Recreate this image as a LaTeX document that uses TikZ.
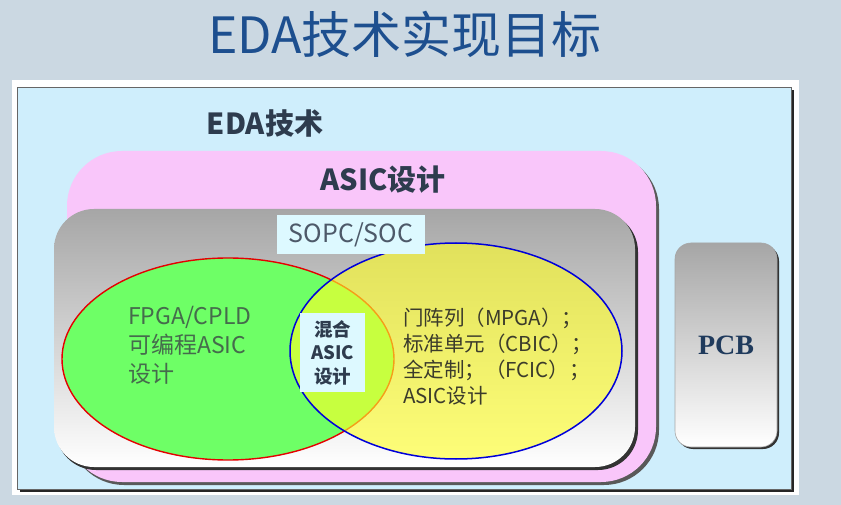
\documentclass[tikz,border=0pt]{standalone}
\usepackage{fontspec}
\setmainfont{Noto Sans CJK SC}
\newfontfamily\pcbfont{Liberation Serif}
\usetikzlibrary{shapes.geometric}
\definecolor{bgc}{HTML}{CBD8E2}
\definecolor{titlec}{HTML}{1D4F8F}
\definecolor{skyc}{HTML}{CFEEFC}
\definecolor{pinkc}{HTML}{F9C6FA}
\definecolor{gtop}{HTML}{A6A6A6}
\definecolor{greenc}{HTML}{6EFF66}
\definecolor{yelc}{HTML}{FFFF28}
\definecolor{labc}{HTML}{2E3C4E}
\definecolor{cyanc}{HTML}{DDF9FF}
\definecolor{greentext}{HTML}{456B4C}
\definecolor{yellowtext}{HTML}{3B3B2B}
\definecolor{pcbc}{HTML}{1F3A5C}
\tikzset{
  titlelab/.style={text=titlec, font=\fontsize{50}{56}\selectfont, inner sep=0},
  boldlab/.style={text=labc, font=\fontsize{29}{34}\selectfont\bfseries, inner sep=0},
  tag/.style={fill=cyanc, inner sep=0, align=center},
}
\begin{document}
\begin{tikzpicture}[x=1pt,y=1pt]
\useasboundingbox (0,0) rectangle (841,-505);
\fill[bgc] (0,0) rectangle (841,-505);
\node[titlelab] (title) at (405,-34) {EDA技术实现目标};
% white frame and blue box
\fill[white] (12,-80) rectangle (799,-495);
\fill[black!85] (20,-90) rectangle (794,-492);
\filldraw[fill=skyc, draw=black!60, line width=0.8] (17,-87) rectangle (791,-489);
\node[boldlab] (eda) at (265,-123) {EDA技术};
% pink ASIC box
\fill[black!65, rounded corners=55] (69,-154) rectangle (659,-485);
\fill[pinkc, rounded corners=55] (67,-151) rectangle (656,-482);
\node[boldlab] (asic) at (383,-180) {ASIC设计};
% gray SOPC box
\fill[black!80, rounded corners=40] (56,-212) rectangle (638,-470);
\shade[top color=gtop, bottom color=white, rounded corners=40] (54,-209) rectangle (635,-467);
% ellipses
\node[ellipse, draw=red!90!black, line width=1.4, fill=greenc, minimum width=332, minimum height=202, inner sep=0] (fpga) at (228,-359) {};
\node[ellipse, draw=blue!85!black, line width=1.5, fill=yelc, fill opacity=0.62, draw opacity=1, minimum width=332, minimum height=216, inner sep=0] (gate) at (456,-351) {};
% labels
\node[tag, minimum width=148, minimum height=39, text=labc!85!white, font=\fontsize{25}{30}\selectfont] (sopc) at (351,-234.5) {SOPC/SOC};
\node[tag, minimum width=65, minimum height=79, text=labc, font=\fontsize{18.5}{23.5}\selectfont\bfseries] (mix) at (332.5,-352.5) {混合\\ASIC\\设计};
\node[anchor=north west, align=left, inner sep=0, text=greentext, font=\fontsize{23}{29}\selectfont] (fpgatext) at (128,-306) {FPGA/CPLD\\可编程ASIC\\设计};
\node[anchor=north west, align=left, inner sep=0, text=yellowtext, font=\fontsize{20.5}{26}\selectfont] (gatetext) at (403,-308) {门阵列（MPGA）；\\标准单元（CBIC）；\\全定制；（FCIC）；\\ASIC设计};
% PCB box
\fill[black!80, rounded corners=16] (677,-245) rectangle (779,-449);
\shade[top color=gtop, bottom color=white, rounded corners=16] (675,-243) rectangle (777,-447);
\draw[black!35, line width=0.6, rounded corners=16] (675,-243) rectangle (777,-447);
\node[inner sep=0, text=pcbc, font=\pcbfont\fontsize{28}{32}\selectfont\bfseries] (pcb) at (726,-345) {PCB};
\end{tikzpicture}
\end{document}
